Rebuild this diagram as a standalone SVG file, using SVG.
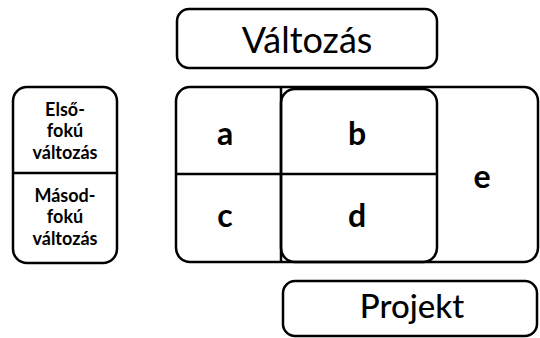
<svg xmlns="http://www.w3.org/2000/svg" width="540" height="338" viewBox="0 0 540 338">
<style>
.b{fill:none;stroke:#000;stroke-width:2.5}
.t{font-family:Lato,"Open Sans",sans-serif;fill:#000;text-anchor:middle}
.s{font-size:18px;font-weight:bold}
.l{font-size:32px;font-weight:bold}
</style>
<rect width="540" height="338" fill="#fff"/>
<g id="valtozas"><rect class="b" x="177" y="9" width="260" height="59" rx="12"/><text class="t" x="307" y="53" font-size="36">Változás</text></g>
<g id="fokok">
<rect class="b" x="13" y="87" width="104" height="176" rx="14"/>
<line class="b" x1="13" y1="173" x2="117" y2="173"/>
<text class="t s"><tspan x="65" y="116">Első-</tspan><tspan x="65" y="137">fokú</tspan><tspan x="65" y="159">változás</tspan></text>
<text class="t s"><tspan x="65" y="202">Másod-</tspan><tspan x="65" y="223">fokú</tspan><tspan x="65" y="245">változás</tspan></text>
</g>
<g id="matrix">
<rect class="b" x="176" y="87" width="362" height="175" rx="14"/>
<line class="b" x1="176" y1="174" x2="437" y2="174"/>
<line class="b" x1="281" y1="87" x2="281" y2="262"/>
<rect class="b" x="281" y="89" width="156" height="173" rx="14"/>
<text class="t l" x="225" y="145">a</text>
<text class="t l" x="357" y="145">b</text>
<text class="t l" x="225" y="227">c</text>
<text class="t l" x="357" y="227">d</text>
<text class="t l" x="482" y="188">e</text>
</g>
<g id="projekt"><rect class="b" x="283" y="281" width="254" height="55" rx="12"/><text class="t" x="412" y="318" font-size="33" font-weight="500">Projekt</text></g>
</svg>
